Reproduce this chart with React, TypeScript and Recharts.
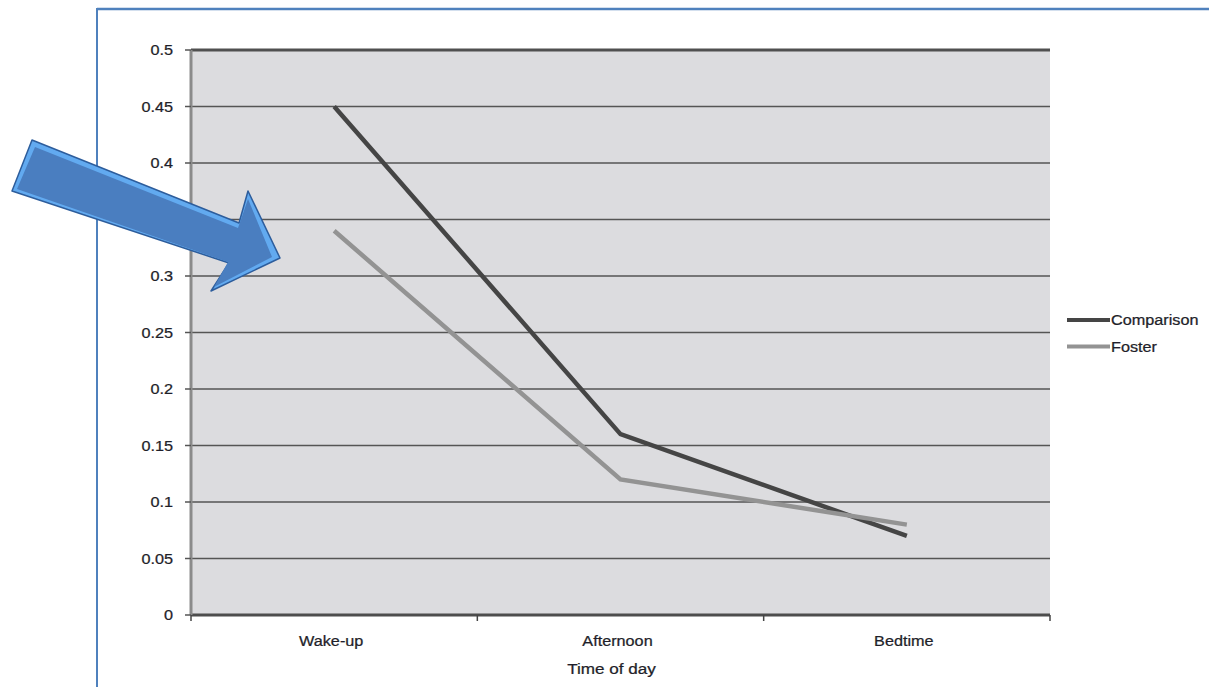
import React from 'react';
import { LineChart, Line, XAxis, YAxis, CartesianGrid, Legend, ReferenceLine } from 'recharts';

// categories and series values
const timesOfDay = ['Wake-up', 'Afternoon', 'Bedtime'];
const comparisonValues = [0.45, 0.16, 0.07];
const fosterValues = [0.34, 0.12, 0.08];
const yTicks = [0, 0.05, 0.1, 0.15, 0.2, 0.25, 0.3, 0.35, 0.4, 0.45, 0.5];

const seriesInfo = [
    { key: 'comparison', name: 'Comparison', color: '#454545' },
    { key: 'foster', name: 'Foster', color: '#939393' },
];

const data = timesOfDay.map((time, i) => ({
    time,
    comparison: comparisonValues[i],
    foster: fosterValues[i],
}));

const FONT = '"Liberation Sans", Arial, sans-serif';
const TEXT_COLOR = '#1f1f2a';
const FONT_SIZE = 14.5;
// the labels are drawn slightly widened
const STRETCH = 1.12;

const YTick = ({ x, y, payload }: any) => (
    <text
        transform={`translate(${x},${y}) scale(${STRETCH},1)`}
        textAnchor="end"
        dy="0.36em"
        fill={TEXT_COLOR}
        fontSize={FONT_SIZE}
        fontFamily={FONT}
        stroke={TEXT_COLOR}
        strokeWidth={0.25}
    >
        {payload.value}
    </text>
);

// category label in the middle of its band, tick marks on the band edges
const XTick = ({ x, y, payload, index }: any) => {
    const half = payload.offset || 143;
    const isLast = index === timesOfDay.length - 1;
    return (
        <g>
            <line x1={x - half} x2={x - half} y1={y} y2={y + 6} stroke="#444" strokeWidth={1.5} />
            {isLast && <line x1={x + half} x2={x + half} y1={y} y2={y + 6} stroke="#444" strokeWidth={1.5} />}
            <text
                transform={`translate(${x - 3},${y + 31}) scale(${STRETCH},1)`}
                textAnchor="middle"
                fill={TEXT_COLOR}
                fontSize={FONT_SIZE}
                fontFamily={FONT}
                stroke={TEXT_COLOR}
                strokeWidth={0.25}
            >
                {payload.value}
            </text>
        </g>
    );
};

const AxisTitle = ({ viewBox }: any) => {
    const { x, y, width } = viewBox;
    return (
        <text
            transform={`translate(${x + width / 2 - 9},${y + 59}) scale(1.18,1)`}
            textAnchor="middle"
            fill={TEXT_COLOR}
            fontSize={FONT_SIZE}
            fontFamily={FONT}
            stroke={TEXT_COLOR}
            strokeWidth={0.25}
        >
            Time of day
        </text>
    );
};

const LegendBox = () => (
    <svg width={143} height={50}>
        {seriesInfo.map((s, i) => (
            <g key={s.key}>
                <line x1={1} x2={44} y1={10 + i * 26.5} y2={10 + i * 26.5} stroke={s.color} strokeWidth={4} />
                <text
                    transform={`translate(45,${10 + i * 26.5}) scale(${STRETCH},1)`}
                    dy="0.36em"
                    fill={TEXT_COLOR}
                    fontSize={FONT_SIZE}
                    fontFamily={FONT}
                    stroke={TEXT_COLOR}
                    strokeWidth={0.25}
                >
                    {s.name}
                </text>
            </g>
        ))}
    </svg>
);

// block arrow pointing at the wake-up value
const arrowOuter = '32,140 239,223 248,191 280,258 211,291 229,263 12,191';
const arrowInner = '35,147 238,228 248,199 272,257 214,287 228,262 17,189';

const App: React.FC = () => {
    return (
        <div style={{ position: 'absolute', left: 0, top: 0, width: 1209, height: 687, background: '#fff' }}>
            <svg width={1209} height={687} style={{ position: 'absolute', left: 0, top: 0 }}>
                <line x1={97} x2={1209} y1={9} y2={9} stroke="#4f81bd" strokeWidth={2.5} />
                <line x1={97} x2={97} y1={8} y2={687} stroke="#4f81bd" strokeWidth={2} />
            </svg>
            <div style={{ position: 'absolute', left: 0, top: 0 }}>
                <LineChart width={1209} height={687} data={data} margin={{ top: 50, right: 159, bottom: 12, left: 0 }}>
                    <CartesianGrid vertical={false} stroke="#555" strokeWidth={1.6} fill="#dcdcdf" />
                    <XAxis
                        dataKey="time"
                        scale="band"
                        height={60}
                        tickSize={0}
                        tickMargin={0}
                        tick={<XTick />}
                        axisLine={{ stroke: '#4d4d4d', strokeWidth: 3 }}
                        label={<AxisTitle />}
                    />
                    <YAxis
                        width={191}
                        domain={[0, 0.5]}
                        ticks={yTicks}
                        interval={0}
                        tickSize={6}
                        tickMargin={12}
                        tick={<YTick />}
                        tickLine={{ stroke: '#555', strokeWidth: 1.5 }}
                        axisLine={{ stroke: '#8b8b8b', strokeWidth: 3 }}
                    />
                    <YAxis
                        yAxisId="edge"
                        orientation="right"
                        width={0}
                        domain={[0, 0.5]}
                        tick={false}
                        tickLine={false}
                        axisLine={{ stroke: '#8b8b8b', strokeWidth: 3 }}
                    />
                    <ReferenceLine y={0.5} stroke="#505050" strokeWidth={3} />
                    {seriesInfo.map((s) => (
                        <Line
                            key={s.key}
                            type="linear"
                            dataKey={s.key}
                            name={s.name}
                            stroke={s.color}
                            strokeWidth={4.5}
                            dot={false}
                            activeDot={false}
                            isAnimationActive={false}
                        />
                    ))}
                    <Legend
                        layout="horizontal"
                        verticalAlign="middle"
                        align="center"
                        content={<LegendBox />}
                        wrapperStyle={{ left: 1066, top: 310, width: 143, height: 50 }}
                    />
                </LineChart>
            </div>
            <svg width={1209} height={687} style={{ position: 'absolute', left: 0, top: 0, pointerEvents: 'none' }}>
                <polygon points={arrowOuter} fill="#62aaf0" stroke="#2d5d9c" strokeWidth={1.5} strokeLinejoin="round" />
                <polygon points={arrowInner} fill="#4a7ec0" />
            </svg>
        </div>
    );
};

export default App;
